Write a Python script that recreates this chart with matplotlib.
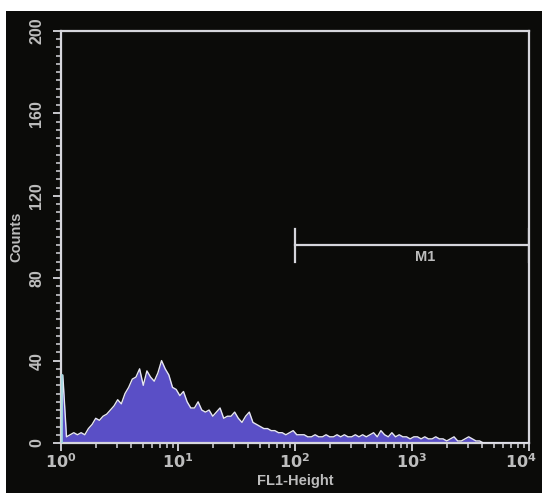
import numpy as np
import matplotlib
matplotlib.use("Agg")
import matplotlib.pyplot as plt
import matplotlib.transforms as mtransforms
from matplotlib.ticker import MultipleLocator, LogLocator, FixedLocator
from matplotlib.patches import Rectangle

# ---- data (counts per channel, 32 channels per decade, FL1 from 10^0 to 10^4) ----
channels_per_decade = 32
counts = [
    33, 3, 4, 5, 4, 5, 4, 7, 9, 12, 11, 13, 14, 16, 18, 21,
    19, 24, 27, 31, 32, 36, 28, 35, 32, 30, 34, 40, 36, 33, 27, 26,
    23, 25, 20, 17, 17, 20, 16, 15, 16, 13, 15, 17, 12, 13, 13, 15,
    12, 10, 13, 15, 10, 9, 8, 7, 7, 6, 6, 5, 5, 4, 5, 6,
    4, 4, 4, 3, 3, 4, 3, 3, 4, 3, 3, 4, 3, 4, 3, 3,
    4, 3, 4, 3, 4, 5, 3, 6, 4, 3, 5, 3, 4, 3, 3, 2,
    3, 3, 2, 3, 2, 2, 3, 2, 2, 1, 2, 3, 1, 1, 2, 3,
    2, 1, 1, 0, 0, 0, 0, 0, 0, 0, 0, 0, 0, 0, 0, 0,
]
y_ticks = [0, 40, 80, 120, 160, 200]
x_ticks = [1, 10, 100, 1000, 10000]
x_tick_labels = ["$\\mathbf{10^0}$", "$\\mathbf{10^1}$", "$\\mathbf{10^2}$",
                 "$\\mathbf{10^3}$", "$\\mathbf{10^4}$"]
marker_label = "M1"
marker_range = [100, 10000]
marker_level = 96
x_label = "FL1-Height"
y_label = "Counts"

# ---- figure ----
W, H, DPI = 542, 493, 100
fig = plt.figure(figsize=(W / DPI, H / DPI), dpi=DPI, facecolor="white")
fig.patches.append(Rectangle((6 / W, 0), 1 - 6 / W, 1 - 11 / H,
                             transform=fig.transFigure, facecolor="#0b0b09",
                             edgecolor="none", zorder=-10))

ax = fig.add_axes([61 / W, 50 / H, 468 / W, 412 / H])
ax.set_facecolor("#0b0b09")

fg = "#d6d6dc"
txt = "#bdbdbd"
fill_col = "#5a4fc6"

n = len(counts)
edges = 10 ** (np.arange(n + 1) / channels_per_decade)
centers = np.sqrt(edges[:-1] * edges[1:])
c = np.array(counts, dtype=float)

xs = np.concatenate([[edges[0]], centers, [edges[-1]]])
ys = np.concatenate([[0], c, [0]])
ax.fill_between(xs, 0, ys, color=fill_col, linewidth=0, zorder=2)
ax.plot(xs, ys, color="#e6e6f2", linewidth=1.0, zorder=3)
ax.plot([edges[0] * 1.01, edges[0] * 1.01], [0, counts[0]], color="#9fd8e0", lw=1.2, zorder=3)

ax.set_xscale("log")
ax.set_xlim(1, 10000)
ax.set_ylim(0, 200)

for s in ax.spines.values():
    s.set_color(fg)
    s.set_linewidth(1.6)

ax.xaxis.set_major_locator(FixedLocator(x_ticks))
ax.set_xticklabels(x_tick_labels)
ax.xaxis.set_minor_locator(LogLocator(base=10, subs=np.arange(2, 10)))
ax.set_yticks(y_ticks)
ax.set_yticklabels([str(v) for v in y_ticks], rotation=90, va="center")
ax.yaxis.set_minor_locator(MultipleLocator(4))

ax.tick_params(axis="both", which="major", direction="out", length=6, width=1.3,
               colors=fg, labelcolor=txt, labelsize=11.5)
ax.tick_params(axis="both", which="minor", direction="out", length=3.5, width=1.1,
               colors=fg)
ax.tick_params(axis="x", pad=1)
ax.tick_params(axis="y", pad=6)
for lab in ax.get_xticklabels() + ax.get_yticklabels():
    lab.set_family("Liberation Sans")
    lab.set_fontweight("bold")

# shift the last x label slightly left so it stays inside the figure
last = ax.get_xticklabels()[-1]
last.set_transform(last.get_transform() +
                   mtransforms.ScaledTranslation(-8 / DPI, 0, fig.dpi_scale_trans))

ax.set_xlabel(x_label, color=txt, fontsize=10.5, family="Liberation Sans",
              fontweight="bold", labelpad=2)
ax.set_ylabel(y_label, color=txt, fontsize=10.5, family="Liberation Sans",
              fontweight="bold", labelpad=4)

# marker M1
ax.plot(marker_range, [marker_level, marker_level], color=fg, lw=1.6, zorder=4)
for xm in marker_range:
    ax.plot([xm, xm], [marker_level - 8, marker_level + 8], color=fg, lw=1.6, zorder=4)
ax.text(np.sqrt(marker_range[0] * marker_range[1]) * 1.3, marker_level - 2.5, marker_label,
        color=txt, fontsize=10.5, family="Liberation Sans", fontweight="bold",
        ha="center", va="top")

fig.savefig("out.png", dpi=DPI, facecolor="white")
